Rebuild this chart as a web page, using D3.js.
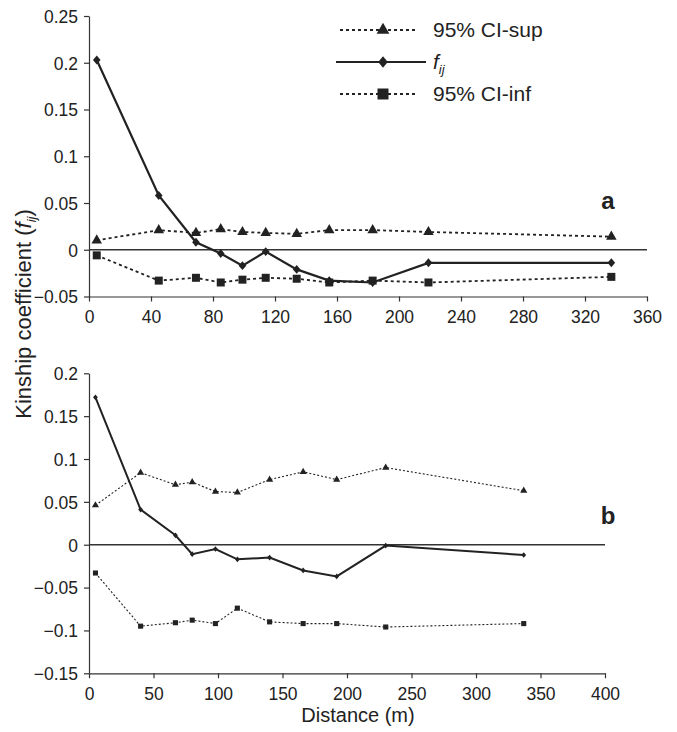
<!DOCTYPE html>
<html>
<head>
<meta charset="utf-8">
<script src="https://cdn.jsdelivr.net/npm/d3@7"></script>
<style>
  body { margin: 0; background: #fff; }
  svg { display: block; font-family: "Liberation Sans", Arial, sans-serif; }
  .axis path, .axis line { stroke: #333; stroke-width: 1.2; }
  .axis text { font-size: 17.5px; fill: #222; font-family: "Liberation Sans", Arial, sans-serif; }
</style>
</head>
<body>
<div id="chart"></div>
<script>

// panel a
var distA = [5, 45, 69, 85, 99, 114, 134, 155, 183, 219, 337];
var supA  = [0.010, 0.021, 0.018, 0.022, 0.019, 0.018, 0.017, 0.021, 0.021, 0.019, 0.014];
var fijA  = [0.203, 0.058, 0.008, -0.004, -0.017, -0.002, -0.021, -0.033, -0.035, -0.014, -0.014];
var infA  = [-0.006, -0.033, -0.030, -0.035, -0.032, -0.030, -0.031, -0.035, -0.033, -0.035, -0.029];
var xTicksA = [0, 40, 80, 120, 160, 200, 240, 280, 320, 360];
var yTicksA = [-0.05, 0, 0.05, 0.1, 0.15, 0.2, 0.25];

// panel b
var distB = [5, 40, 67, 80, 98, 115, 140, 166, 192, 230, 337];
var supB  = [0.046, 0.084, 0.070, 0.073, 0.062, 0.061, 0.076, 0.085, 0.076, 0.090, 0.063];
var fijB  = [0.172, 0.041, 0.011, -0.011, -0.005, -0.017, -0.015, -0.030, -0.037, -0.001, -0.012];
var infB  = [-0.033, -0.095, -0.091, -0.088, -0.092, -0.074, -0.090, -0.092, -0.092, -0.096, -0.092];
var xTicksB = [0, 50, 100, 150, 200, 250, 300, 350, 400];
var yTicksB = [-0.15, -0.1, -0.05, 0, 0.05, 0.1, 0.15, 0.2];

var legendNames = ["95% CI-sup", "f", "95% CI-inf"];

var W = 677, H = 732;
var ink = "#222";

var svg = d3.select("#chart").append("svg")
    .attr("width", W)
    .attr("height", H);

function fmt(d) {
    return d3.format("~g")(d);
}

// squares turned 45deg, a bit taller than wide, for the f_ij markers
function marker(type, size) {
    if (type === "diamond") {
        return { d: d3.symbol().type(d3.symbolSquare).size(size)(), extra: " scale(0.85,1) rotate(45)" };
    }
    var t = type === "triangle" ? d3.symbolTriangle : d3.symbolSquare;
    return { d: d3.symbol().type(t).size(size)(), extra: "" };
}

function draw_panel(p) {
    var x = d3.scaleLinear().domain(p.xdom).range([89, p.right]);
    var y = d3.scaleLinear().domain(p.ydom).range([p.bottom, p.top]);

    var g = svg.append("g");

    // axes
    g.append("g")
        .attr("class", "axis")
        .attr("transform", "translate(0," + p.bottom + ")")
        .call(d3.axisBottom(x).tickValues(p.xticks).tickFormat(fmt)
              .tickSize(5).tickPadding(9).tickSizeOuter(0));

    g.append("g")
        .attr("class", "axis")
        .attr("transform", "translate(89,0)")
        .call(d3.axisLeft(y).tickValues(p.yticks).tickFormat(fmt)
              .tickSize(5).tickPadding(6).tickSizeOuter(0))
        .selectAll(".tick text").attr("dy", "0.36em");

    // zero line
    g.append("line")
        .attr("x1", x(p.xdom[0])).attr("x2", x(p.xdom[1]))
        .attr("y1", y(0)).attr("y2", y(0))
        .attr("stroke", "#333").attr("stroke-width", 1.3);

    var series = [
        { vals: p.sup, dash: p.dash, w: p.dw, sym: "triangle", size: p.sTri },
        { vals: p.inf, dash: p.dash, w: p.dw, sym: "square", size: p.sSq },
        { vals: p.fij, dash: null, w: p.fw, sym: "diamond", size: p.sDia }
    ];

    series.forEach(function(s) {
        var pts = p.dist.map(function(d, i) { return [d, s.vals[i]]; });
        var line = d3.line()
            .x(function(d) { return x(d[0]); })
            .y(function(d) { return y(d[1]); });

        g.append("path")
            .datum(pts)
            .attr("d", line)
            .attr("fill", "none")
            .attr("stroke", ink)
            .attr("stroke-width", s.w)
            .attr("stroke-dasharray", s.dash);

        var m = marker(s.sym, s.size);
        g.selectAll(null)
            .data(pts).enter()
            .append("path")
                .attr("d", m.d)
                .attr("transform", function(d) {
                    return "translate(" + x(d[0]) + "," + y(d[1]) + ")" + m.extra;
                })
                .attr("fill", ink);
    });

    // panel letter
    g.append("text")
        .attr("x", 608)
        .attr("y", p.letterY)
        .attr("text-anchor", "middle")
        .style("font-size", "24px")
        .style("font-weight", "bold")
        .attr("fill", ink)
        .text(p.letter);
}

draw_panel({
    dist: distA, sup: supA, fij: fijA, inf: infA,
    xdom: [0, 360], ydom: [-0.05, 0.25], xticks: xTicksA, yticks: yTicksA,
    right: 647, top: 16, bottom: 296.5,
    dash: "3,3", dw: 1.8, fw: 2.2,
    sTri: 48, sSq: 64, sDia: 40,
    letter: "a", letterY: 209
});

draw_panel({
    dist: distB, sup: supB, fij: fijB, inf: infB,
    xdom: [0, 400], ydom: [-0.15, 0.2], xticks: xTicksB, yticks: yTicksB,
    right: 605, top: 373.3, bottom: 673.3,
    dash: "2,2", dw: 1.1, fw: 2,
    sTri: 22, sSq: 26, sDia: 16,
    letter: "b", letterY: 524
});

// legend
var legend = svg.append("g").attr("class", "legend");
var legRows = [
    { y: 30, dash: "3,3", sym: "triangle", size: 70 },
    { y: 62, dash: null, sym: "diamond", size: 64 },
    { y: 94, dash: "3,3", sym: "square", size: 121 }
];

legRows.forEach(function(r, i) {
    legend.append("line")
        .attr("x1", r.dash ? 340 : 336).attr("x2", r.dash ? 417 : 426)
        .attr("y1", r.y).attr("y2", r.y)
        .attr("stroke", ink)
        .attr("stroke-width", r.dash ? 1.8 : 2)
        .attr("stroke-dasharray", r.dash);
    var m = marker(r.sym, r.size);
    legend.append("path")
        .attr("d", m.d)
        .attr("transform", "translate(383," + r.y + ")" + m.extra)
        .attr("fill", ink);

    var t = legend.append("text")
        .attr("x", 433)
        .attr("y", r.y + 7)
        .style("font-size", "21px")
        .attr("fill", ink);
    if (i === 1) {
        t.append("tspan").style("font-style", "italic").text("f");
        t.append("tspan").style("font-style", "italic")
            .style("font-size", "13px").attr("dy", 5).text("ij");
    } else {
        t.text(legendNames[i]);
    }
});

// axis titles
var yt = svg.append("text")
    .attr("transform", "translate(31,314) rotate(-90)")
    .attr("text-anchor", "middle")
    .style("font-size", "22px")
    .attr("fill", ink);
yt.append("tspan").text("Kinship coefficient (");
yt.append("tspan").style("font-style", "italic").text("f");
yt.append("tspan").style("font-style", "italic").style("font-size", "13px")
    .attr("dy", 5).text("ij");
yt.append("tspan").attr("dy", -5).text(")");

svg.append("text")
    .attr("x", 358)
    .attr("y", 722)
    .attr("text-anchor", "middle")
    .style("font-size", "20px")
    .attr("fill", ink)
    .text("Distance (m)");

</script>
</body>
</html>
